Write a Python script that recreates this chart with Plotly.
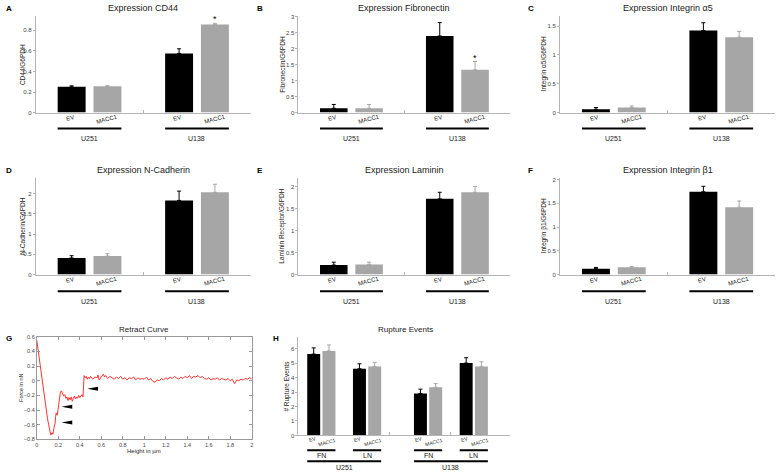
import plotly.graph_objects as go

# ---- data ----
# expression panels, order of each list: U251, U138
cell_lines = ["U251", "U138"]
conditions = ["EV", "MACC1"]

cd44_ev = [0.25, 0.575]
cd44_ev_err = [0.01, 0.045]
cd44_macc1 = [0.255, 0.855]
cd44_macc1_err = [0.006, 0.012]

fn_ev = [0.135, 2.40]
fn_ev_err = [0.12, 0.42]
fn_macc1 = [0.135, 1.34]
fn_macc1_err = [0.12, 0.26]

a5_ev = [0.058, 1.425]
a5_ev_err = [0.03, 0.135]
a5_macc1 = [0.088, 1.31]
a5_macc1_err = [0.028, 0.10]

ncad_ev = [0.41, 1.83]
ncad_ev_err = [0.055, 0.23]
ncad_macc1 = [0.457, 2.03]
ncad_macc1_err = [0.06, 0.20]

lam_ev = [0.215, 1.72]
lam_ev_err = [0.065, 0.15]
lam_macc1 = [0.23, 1.87]
lam_macc1_err = [0.05, 0.13]

b1_ev = [0.124, 1.745]
b1_ev_err = [0.025, 0.115]
b1_macc1 = [0.152, 1.42]
b1_macc1_err = [0.018, 0.13]

# rupture events, order: U251 FN, U251 LN, U138 FN, U138 LN
substrates = ["FN", "LN"]
rupture_ev = [5.62, 4.61, 2.90, 5.00]
rupture_ev_err = [0.43, 0.34, 0.30, 0.37]
rupture_macc1 = [5.84, 4.77, 3.33, 4.77]
rupture_macc1_err = [0.41, 0.28, 0.25, 0.32]

# retract curve (force in nN vs height in um)
height_um = [
    0.00, 0.01, 0.02, 0.03, 0.04, 0.05, 0.06, 0.07, 0.08, 0.09,
    0.10, 0.11, 0.12, 0.13, 0.14, 0.15, 0.16, 0.17, 0.175, 0.18,
    0.19, 0.20, 0.21, 0.22, 0.23, 0.24, 0.25, 0.26, 0.27, 0.28,
    0.29, 0.30, 0.31, 0.32, 0.33, 0.34, 0.35, 0.36, 0.37, 0.38,
    0.39, 0.40, 0.41, 0.42, 0.43, 0.435, 0.44, 0.45, 0.46, 0.47,
    0.48, 0.49, 0.50, 0.52, 0.54, 0.56, 0.57, 0.58, 0.60, 0.62,
    0.63, 0.64, 0.66, 0.68, 0.70, 0.72, 0.74, 0.76, 0.78, 0.80,
    0.82, 0.84, 0.86, 0.88, 0.90, 0.92, 0.94, 0.96, 0.98, 1.00,
    1.02, 1.04, 1.06, 1.08, 1.10, 1.12, 1.14, 1.16, 1.18, 1.20,
    1.22, 1.24, 1.26, 1.28, 1.30, 1.32, 1.34, 1.36, 1.38, 1.40,
    1.42, 1.44, 1.46, 1.48, 1.50, 1.52, 1.54, 1.56, 1.58, 1.60,
    1.62, 1.64, 1.66, 1.68, 1.70, 1.72, 1.74, 1.76, 1.78, 1.80,
    1.82, 1.84, 1.86, 1.88, 1.90, 1.92, 1.94, 1.96, 1.98, 2.00,
]
force_nN = [
    0.55, 0.44, 0.33, 0.20, 0.08, -0.02, -0.14, -0.26, -0.37, -0.46,
    -0.52, -0.60, -0.69, -0.74, -0.71, -0.73, -0.64, -0.58, -0.49, -0.44,
    -0.47, -0.38, -0.24, -0.15, -0.14, -0.18, -0.21, -0.19, -0.24, -0.22,
    -0.27, -0.23, -0.26, -0.22, -0.28, -0.24, -0.21, -0.25, -0.22, -0.24,
    -0.20, -0.23, -0.21, -0.19, -0.22, -0.08, 0.07, 0.04, 0.06, 0.02,
    0.05, 0.03, 0.06, 0.02, 0.05, 0.04, 0.08, 0.01, 0.06, 0.09,
    0.05, 0.07, 0.03, 0.06, 0.04, 0.02, 0.05, 0.03, 0.06, 0.02,
    0.04, 0.01, 0.04, 0.03, 0.05, 0.01, 0.04, 0.02, 0.03, 0.02,
    0.05, 0.01, 0.03, -0.01, -0.02, 0.01, 0.00, 0.03, 0.01, 0.04,
    0.02, 0.05, 0.03, 0.06, 0.04, 0.02, 0.05, 0.03, 0.06, 0.04,
    0.07, 0.03, 0.06, 0.05, 0.07, 0.04, 0.06, 0.03, 0.02, 0.04,
    0.01, 0.03, 0.02, 0.04, 0.01, 0.03, 0.02, 0.01, 0.03, 0.00,
    0.02, -0.04, 0.01, 0.00, 0.02, 0.01, 0.03, 0.02, 0.04, 0.03,
]

# tips of the black arrows on the retract curve
arrow_height = [0.23, 0.23, 0.47]
arrow_force = [-0.355, -0.57, -0.11]

# ---- layout helpers ----
W, H = 778, 474
BLACK = "#000000"
GREY = "#a6a6a6"
AXIS = "#b4b4b4"
TICK_FONT = dict(size=6, color="#444444")

fig = go.Figure()
annotations = []
shapes = []
axes = {}


def fx(px):
    return px / W


def fy(py):
    return 1 - py / H


def label(x, y, s, size=7, angle=0, xref="paper", yref="paper", color="#222222"):
    annotations.append(dict(x=x, y=y, xref=xref, yref=yref, text=s, showarrow=False,
                            textangle=angle, font=dict(size=size, color=color),
                            xanchor="center", yanchor="middle"))


def hline(x0, x1, y, xref):
    shapes.append(dict(type="line", xref=xref, yref="paper", x0=x0, x1=x1, y0=fy(y), y1=fy(y),
                       line=dict(color=BLACK, width=2)))


def add_bars(n, xpos, ev, ev_err, macc1, macc1_err, width):
    s = "" if n == 1 else str(n)
    for pos, vals, errs, col in [(xpos[0], ev, ev_err, BLACK), (xpos[1], macc1, macc1_err, GREY)]:
        fig.add_trace(go.Bar(
            x=pos, y=vals, width=width, marker=dict(color=col, line=dict(width=0)),
            error_y=dict(type="data", array=errs, symmetric=False, arrayminus=[0] * len(errs),
                         color=col, thickness=1, width=2),
            xaxis="x" + s, yaxis="y" + s, hoverinfo="y"))


# ---- expression panels A-F ----
cols = [dict(x=(34, 250), letter=2, ytitle=20),
        dict(x=(298, 511), letter=254, ytitle=282),
        dict(x=(561, 777), letter=527, ytitle=545)]
rows = [dict(y=(13, 111), title=5, cond=116, line=127, group=137),
        dict(y=(177, 275), title=169, cond=281, line=292, group=302)]

panels = [
    dict(letter="A", title="Expression CD44", ytitle="CD44/G6PDH", ymax=0.94,
         yticks=[0, 0.2, 0.4, 0.6, 0.8], data=(cd44_ev, cd44_ev_err, cd44_macc1, cd44_macc1_err), star=True),
    dict(letter="B", title="Expression Fibronectin", ytitle="Fibronectin/G6PDH", ymax=3.03,
         yticks=[0, 0.5, 1, 1.5, 2, 2.5, 3], data=(fn_ev, fn_ev_err, fn_macc1, fn_macc1_err), star=True),
    dict(letter="C", title="Expression Integrin α5", ytitle="Integrin α5/G6PDH", ymax=1.68,
         yticks=[0, 0.5, 1, 1.5], data=(a5_ev, a5_ev_err, a5_macc1, a5_macc1_err), star=False),
    dict(letter="D", title="Expression N-Cadherin", ytitle="N-Cadherin/G6PDH", ymax=2.39,
         yticks=[0, 0.5, 1, 1.5, 2], data=(ncad_ev, ncad_ev_err, ncad_macc1, ncad_macc1_err), star=False),
    dict(letter="E", title="Expression Laminin", ytitle="Laminin Receptor/G6PDH", ymax=2.2,
         yticks=[0, 0.5, 1, 1.5, 2], data=(lam_ev, lam_ev_err, lam_macc1, lam_macc1_err), star=False),
    dict(letter="F", title="Expression Integrin β1", ytitle="Integrin β1/G6PDH", ymax=2.04,
         yticks=[0, 0.5, 1, 1.5, 2], data=(b1_ev, b1_ev_err, b1_macc1, b1_macc1_err), star=False),
]

bw = 0.78
ev_pos = [1, 4]
macc1_pos = [2, 5]

for i, p in enumerate(panels):
    n = i + 1
    s = "" if n == 1 else str(n)
    c, r = cols[i % 3], rows[i // 3]
    ev, ev_err, macc1, macc1_err = p["data"]
    add_bars(n, (ev_pos, macc1_pos), ev, ev_err, macc1, macc1_err, bw)

    axes["xaxis" + s] = dict(domain=[fx(c["x"][0]), fx(c["x"][1])], anchor="y" + s, range=[0, 6],
                             tickvals=[0, 3, 6], ticktext=["", "", ""], ticks="inside", ticklen=3,
                             tickcolor=AXIS, showline=True, linecolor=AXIS, linewidth=1,
                             showgrid=False, zeroline=False)
    axes["yaxis" + s] = dict(domain=[fy(r["y"][1]), fy(r["y"][0])], anchor="x" + s,
                             range=[0, p["ymax"]], tickvals=p["yticks"], ticks="outside", ticklen=2,
                             tickcolor=AXIS, tickfont=TICK_FONT, showline=True, linecolor=AXIS,
                             linewidth=1, showgrid=False, zeroline=False)

    xmid = (c["x"][0] + c["x"][1]) / 2
    label(fx(xmid), fy(r["title"]), p["title"], size=9)
    annotations.append(dict(x=fx(c["letter"]), y=fy(r["title"] + 1), xref="paper", yref="paper",
                            text="<b>%s</b>" % p["letter"], showarrow=False, xanchor="left",
                            yanchor="middle", font=dict(size=8, color=BLACK)))
    label(fx(c["ytitle"]), fy((r["y"][0] + r["y"][1]) / 2), p["ytitle"], size=6.5, angle=-90)

    for k in range(2):
        label(ev_pos[k] - 0.05, fy(r["cond"]), conditions[0], size=6, angle=-15, xref="x" + s)
        label(macc1_pos[k], fy(r["cond"] + 1), conditions[1], size=6, angle=-15, xref="x" + s)
        hline(ev_pos[k] - bw / 2, macc1_pos[k] + bw / 2, r["line"], "x" + s)
        label((ev_pos[k] + macc1_pos[k]) / 2, fy(r["group"]), cell_lines[k], size=7, xref="x" + s)

    if p["star"]:
        annotations.append(dict(x=macc1_pos[1], y=macc1[1] + macc1_err[1], xref="x" + s, yref="y" + s,
                                text="*", showarrow=False, xanchor="center", yanchor="bottom",
                                yshift=-3, font=dict(size=9, color=BLACK)))

# ---- G: retract curve ----
fig.add_trace(go.Scatter(x=height_um, y=force_nN, mode="lines", line=dict(color="#ff3333", width=1),
                         xaxis="x7", yaxis="y7", hoverinfo="x+y"))
axes["xaxis7"] = dict(domain=[fx(35), fx(251)], anchor="y7", range=[0, 2], dtick=0.2, ticks="inside",
                      ticklen=3, tickcolor="#999999", tickfont=dict(size=5.5, color="#444444"),
                      showline=True, mirror="ticks", linecolor="#999999", linewidth=1,
                      showgrid=False, zeroline=False)
axes["yaxis7"] = dict(domain=[fy(442), fy(338)], anchor="x7", range=[-0.8, 0.6], dtick=0.2,
                      ticks="inside", ticklen=3, tickcolor="#999999",
                      tickfont=dict(size=5.5, color="#444444"), showline=True, mirror="ticks",
                      linecolor="#999999", linewidth=1, showgrid=False, zeroline=False)
for ax_, ay_ in zip(arrow_height, arrow_force):
    shapes.append(dict(type="path", xref="x7", yref="y7", fillcolor=BLACK, line=dict(width=0),
                       path="M %g,%g L %g,%g L %g,%g Z" % (ax_, ay_, ax_ + 0.1, ay_ + 0.028,
                                                         ax_ + 0.1, ay_ - 0.028)))
label(fx(143), fy(331), "Retract Curve", size=8)
label(fx(143), fy(454), "Height in µm", size=6)
label(fx(19), fy(390), "Force in nN", size=5.5, angle=-90)
annotations.append(dict(x=fx(2), y=fy(340), xref="paper", yref="paper", text="<b>G</b>",
                        showarrow=False, xanchor="left", yanchor="middle", font=dict(size=8, color=BLACK)))

# ---- H: rupture events ----
hbw = 0.85
r_ev_pos = [1, 4, 8, 11]
r_macc1_pos = [2, 5, 9, 12]
add_bars(8, (r_ev_pos, r_macc1_pos), rupture_ev, rupture_ev_err, rupture_macc1, rupture_macc1_err, hbw)
axes["xaxis8"] = dict(domain=[fx(298), fx(511)], anchor="y8", range=[0, 13.9], tickvals=[6, 10],
                      ticktext=["", ""], ticks="inside", ticklen=3, tickcolor=AXIS, showline=True,
                      linecolor=AXIS, linewidth=1, showgrid=False, zeroline=False)
axes["yaxis8"] = dict(domain=[fy(438), fy(338)], anchor="x8", range=[0, 6.82], dtick=1,
                      ticks="outside", ticklen=2, tickcolor=AXIS, tickfont=TICK_FONT, showline=True,
                      linecolor=AXIS, linewidth=1, showgrid=False, zeroline=False)
label(fx(406), fy(331), "Rupture Events", size=8)
label(fx(287), fy(388), "# Rupture Events", size=6.5, angle=-90)
annotations.append(dict(x=fx(270), y=fy(340), xref="paper", yref="paper", text="<b>H</b>",
                        showarrow=False, xanchor="left", yanchor="middle", font=dict(size=8, color=BLACK)))
for k in range(4):
    label(r_ev_pos[k] - 0.1, fy(442), conditions[0], size=5, angle=-15, xref="x8")
    label(r_macc1_pos[k] - 0.1, fy(444.5), conditions[1], size=5, angle=-15, xref="x8")
    hline(r_ev_pos[k] - hbw / 2, r_macc1_pos[k] + hbw / 2, 453, "x8")
    label((r_ev_pos[k] + r_macc1_pos[k]) / 2, fy(458), substrates[k % 2], size=7, xref="x8")
for k in range(2):
    hline(r_ev_pos[2 * k] - hbw / 2, r_macc1_pos[2 * k + 1] + hbw / 2, 464, "x8")
    label((r_ev_pos[2 * k] + r_macc1_pos[2 * k + 1]) / 2, fy(470), cell_lines[k], size=7, xref="x8")

fig.update_layout(
    width=W, height=H, margin=dict(l=0, r=0, t=0, b=0),
    plot_bgcolor="white", paper_bgcolor="white", showlegend=False,
    barmode="overlay", font=dict(family="Liberation Sans, Arial, sans-serif"),
    annotations=annotations, shapes=shapes, **axes,
)

# the page's default 8px body margin would push the figure off the window
fig.write_html("out.html", config={"displayModeBar": False},
               post_script="document.body.style.margin='0';")
